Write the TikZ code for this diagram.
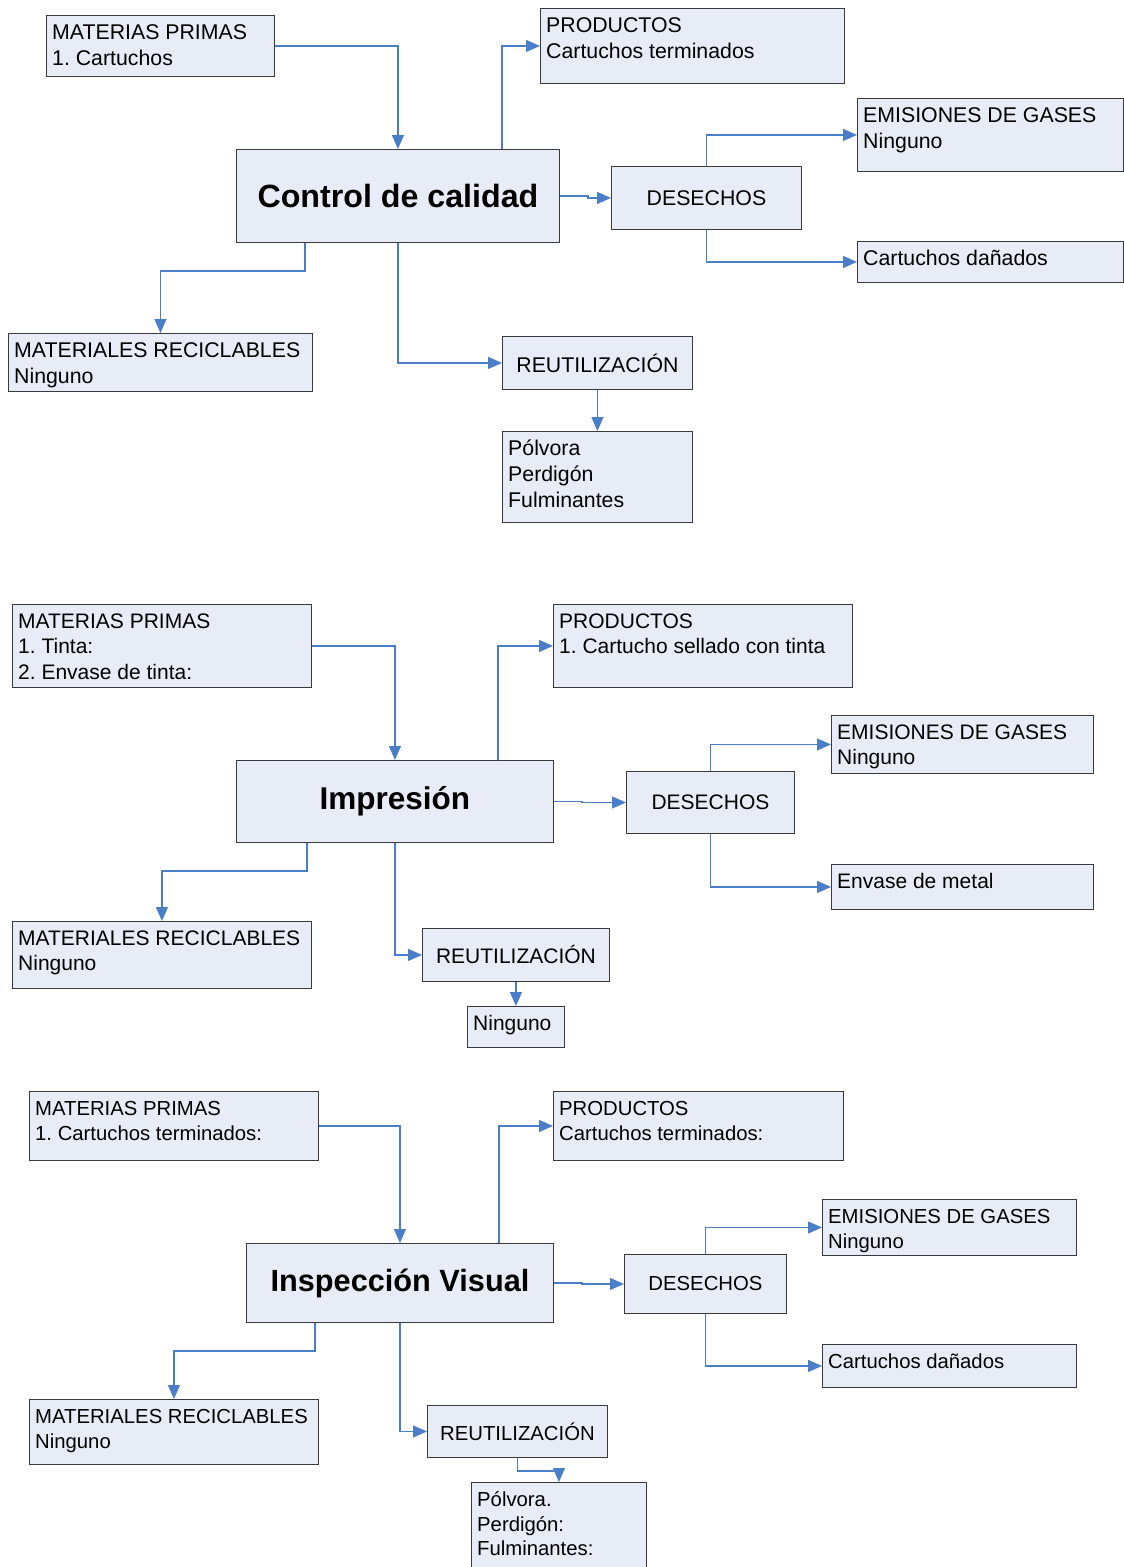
\documentclass[tikz,border=0pt]{standalone}
\usepackage{fontspec}
\setmainfont{Liberation Sans}
\usetikzlibrary{arrows.meta}
\frenchspacing

\definecolor{boxfill}{HTML}{E7ECF7}
\definecolor{boxline}{HTML}{3A3A3A}
\definecolor{linkblue}{HTML}{4A7EC8}

% body text size and line spacing, set per block
\newcommand\bsz{21}
\newcommand\bsk{25.7}
\newcommand\tsz{31.5}

\tikzset{
  box/.style={draw=boxline, fill=boxfill, line width=0.9pt, inner sep=0pt, anchor=north west},
  txt/.style={anchor=north west, align=left, inner sep=0pt,
              font=\fontsize{\bsz}{\bsk}\selectfont},
  ctxt/.style={font=\fontsize{\bsz}{\bsk}\selectfont},
  title/.style={font=\fontsize{\tsz}{36}\selectfont\bfseries},
  link/.style={draw=linkblue, line width=1.2pt, -{Triangle[length=14pt,width=12pt]}},
}

% box with top-left text: name, x1, y1, x2, y2, text
% (the zero-width rule fixes the first line's height, so its baseline sits 24pt below the top)
\newcommand\tbox[6]{%
  \node[box, minimum width={#4-#2}, minimum height={#5-#3}] (#1) at (#2,#3) {};
  \node[txt] (#1-t) at ({#2+6},{#3+4}) {\vrule height 20pt width 0pt #6};
}
% box with centred text: name, x1, y1, x2, y2, style, text
\newcommand\cbox[7]{%
  \node[box, minimum width={#4-#2}, minimum height={#5-#3}, #6] (#1) at (#2,#3) {#7};
}

\begin{document}
\begin{tikzpicture}[x=1pt, y=-1pt]
\useasboundingbox (0,0) rectangle (1124,1567);

% ---------- Control de calidad ----------
\renewcommand\bsz{21.3}\renewcommand\bsk{26}\renewcommand\tsz{32.2}
\tbox{mp1}{46}{15}{274}{76}{MATERIAS PRIMAS\\1. Cartuchos}
\tbox{prod1}{540}{8}{844}{83}{PRODUCTOS\\Cartuchos terminados}
\cbox{cc}{236}{149}{559}{242}{title}{Control de calidad}
\tbox{emi1}{857}{98}{1123}{171}{EMISIONES DE GASES\\Ninguno}
\cbox{des1}{611}{166}{801}{229}{ctxt}{DESECHOS}
\tbox{cd1}{857}{241}{1123}{282}{Cartuchos dañados}
\tbox{mr1}{8}{333}{312}{391}{MATERIALES RECICLABLES\\Ninguno}
\cbox{reu1}{502}{336}{692}{389}{ctxt}{REUTILIZACIÓN}
\tbox{pol1}{502}{431}{692}{522}{Pólvora\\Perdigón\\Fulminantes}

\draw[link] (mp1.east) -| (cc.north);
\draw[link] ([xshift=266pt]cc.north west) |- (prod1.west);
\draw[link] (cc.east) -- +(28,0) |- (des1.west);
\draw[link] (des1.north) |- (emi1.west);
\draw[link] (des1.south) |- (cd1.west);
\draw[link] ([xshift=69pt]cc.south west) -- ++(0,28) -| (mr1.north);
\draw[link] (cc.south) |- (reu1.west);
\draw[link] (reu1.south) -- (pol1.north);

% ---------- Impresión ----------
\renewcommand\bsz{21}\renewcommand\bsk{25.7}\renewcommand\tsz{31.5}
\tbox{mp2}{12}{604}{311}{687}{MATERIAS PRIMAS\\1. Tinta:\\2. Envase de tinta:}
\tbox{prod2}{553}{604}{852}{687}{PRODUCTOS\\1. Cartucho sellado con tinta}
\cbox{imp}{236}{760}{553}{842}{title}{Impresión}
\tbox{emi2}{831}{715}{1093}{773}{EMISIONES DE GASES\\Ninguno}
\cbox{des2}{626}{771}{794}{833}{ctxt}{DESECHOS}
\tbox{env}{831}{864}{1093}{909}{Envase de metal}
\tbox{mr2}{12}{921}{311}{988}{MATERIALES RECICLABLES\\Ninguno}
\cbox{reu2}{422}{928}{609}{981}{ctxt}{REUTILIZACIÓN}
\tbox{nin}{467}{1006}{564}{1047}{Ninguno}

\draw[link] (mp2.east) -| (imp.north);
\draw[link] ([xshift=262pt]imp.north west) |- (prod2.west);
\draw[link] (imp.east) -- +(28,0) |- (des2.west);
\draw[link] (des2.north) |- (emi2.west);
\draw[link] (des2.south) |- (env.west);
\draw[link] ([xshift=71pt]imp.south west) -- ++(0,28) -| (mr2.north);
\draw[link] (imp.south) |- (reu2.west);
\draw[link] (reu2.south) -- (nin.north);

% ---------- Inspección Visual ----------
\renewcommand\bsz{20.3}\renewcommand\bsk{24.8}\renewcommand\tsz{30.7}
\tbox{mp3}{29}{1091}{318}{1160}{MATERIAS PRIMAS\\1. Cartuchos terminados:}
\tbox{prod3}{553}{1091}{843}{1160}{PRODUCTOS\\Cartuchos terminados:}
\cbox{iv}{246}{1243}{553}{1322}{title}{Inspección Visual}
\tbox{emi3}{822}{1199}{1076}{1255}{EMISIONES DE GASES\\Ninguno}
\cbox{des3}{624}{1254}{786}{1313}{ctxt}{DESECHOS}
\tbox{cd3}{822}{1344}{1076}{1387}{Cartuchos dañados}
\tbox{mr3}{29}{1399}{318}{1464}{MATERIALES RECICLABLES\\Ninguno}
\cbox{reu3}{427}{1405}{607}{1457}{ctxt}{REUTILIZACIÓN}
\tbox{pol3}{471}{1482}{646}{1580}{Pólvora.\\Perdigón:\\Fulminantes:}

\draw[link] (mp3.east) -| (iv.north);
\draw[link] ([xshift=253pt]iv.north west) |- (prod3.west);
\draw[link] (iv.east) -- +(28,0) |- (des3.west);
\draw[link] (des3.north) |- (emi3.west);
\draw[link] (des3.south) |- (cd3.west);
\draw[link] ([xshift=69pt]iv.south west) -- ++(0,28) -| (mr3.north);
\draw[link] (iv.south) |- (reu3.west);
\draw[link] (reu3.south) -- ++(0,13) -| (pol3.north);
\end{tikzpicture}
\end{document}
